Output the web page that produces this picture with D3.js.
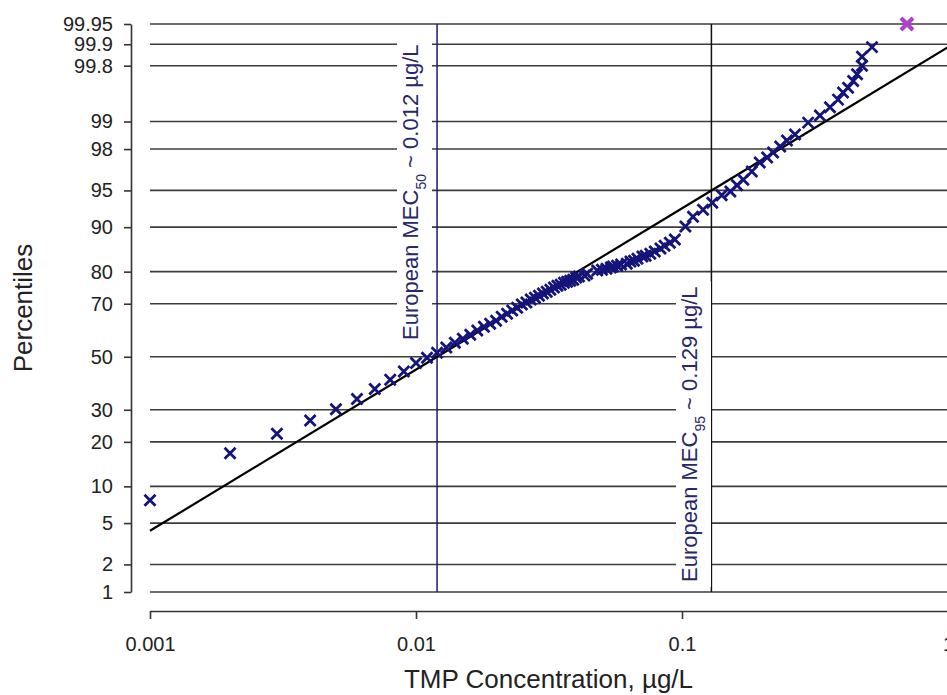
<!DOCTYPE html>
<html>
<head>
<meta charset="utf-8">
<script src="https://cdn.jsdelivr.net/npm/d3@7"></script>
<style>
  body { margin: 0; background: #fff; }
  svg { display: block; font-family: "Liberation Sans", Arial, sans-serif; }
</style>
</head>
<body>
<div id="wrapper"></div>
<script>
// axis ticks
const concTicks = [0.001, 0.01, 0.1, 1];
const concTickLabels = ["0.001", "0.01", "0.1", "1"];
const pctTicks = [1, 2, 5, 10, 20, 30, 50, 70, 80, 90, 95, 98, 99, 99.8, 99.9, 99.95];
const pctTickLabels = ["1", "2", "5", "10", "20", "30", "50", "70", "80", "90", "95", "98", "99", "99.8", "99.9", "99.95"];

// measured TMP concentrations (ug/L) and their percentiles
const sampleConc = [0.001, 0.002, 0.003, 0.004, 0.005, 0.006, 0.007, 0.008, 0.009, 0.010,
  0.011, 0.012, 0.013, 0.014, 0.015, 0.016, 0.017, 0.018, 0.019, 0.020,
  0.021, 0.022, 0.023, 0.024, 0.025, 0.026, 0.027, 0.028, 0.029, 0.030,
  0.031, 0.032, 0.033, 0.034, 0.035, 0.036, 0.037, 0.038, 0.039, 0.040,
  0.041, 0.043, 0.044,
  0.048, 0.050, 0.052, 0.054, 0.055, 0.057, 0.059, 0.062, 0.064, 0.066,
  0.068, 0.071, 0.073, 0.076, 0.079, 0.083, 0.086, 0.090, 0.094,
  0.103, 0.110, 0.120, 0.130, 0.141, 0.152, 0.161, 0.170, 0.183, 0.196,
  0.209, 0.220, 0.234, 0.248, 0.266, 0.298, 0.330, 0.360, 0.386, 0.403,
  0.421, 0.440, 0.455, 0.475, 0.475, 0.518];
const samplePct = [7.8, 17.0, 22.3, 26.4, 30.2, 33.8, 37.5, 41.0, 44.2, 47.5,
  49.6, 51.6, 53.6, 55.5, 57.1, 58.6, 60.2, 61.7, 62.8, 63.9,
  65.4, 66.5, 67.6, 68.6, 69.7, 70.4, 71.4, 72.0, 72.7, 73.4,
  74.0, 74.6, 75.3, 75.9, 76.2, 76.8, 77.1, 77.4, 77.7, 78.3,
  78.6, 78.9, 79.4,
  80.3, 80.5, 80.8, 81.1, 81.4, 81.6, 81.9, 82.1, 82.7, 82.9,
  83.4, 83.9, 84.1, 84.6, 85.1, 85.8, 86.4, 87.0, 87.7,
  90.1, 91.7, 92.7, 93.6, 94.5, 94.9, 95.5, 96.0, 96.65, 97.26,
  97.56, 97.83, 98.12, 98.38, 98.60, 98.97, 99.15, 99.32, 99.45, 99.55,
  99.61, 99.68, 99.74, 99.80, 99.85, 99.89];

// maximum value, highlighted
const maxConc = [0.701];
const maxPct = [99.95];

// fitted log-normal line (ends of the straight line)
const fitConc = [0.001, 1];
const fitPct = [4.26, 99.89];

// European MEC reference lines
const mecConc = [0.012, 0.129];
const mecSub = ["50", "95"];
const mecValue = ["0.012", "0.129"];

// inverse normal cdf (Acklam), used for the probability axis
function probit(p) {
  const a = [-3.969683028665376e+01, 2.209460984245205e+02, -2.759285104469687e+02, 1.383577518672690e+02, -3.066479806614716e+01, 2.506628277459239e+00];
  const b = [-5.447609879822406e+01, 1.615858368580409e+02, -1.556989798598866e+02, 6.680131188771972e+01, -1.328068155288572e+01];
  const c = [-7.784894002430293e-03, -3.223964580411365e-01, -2.400758277161838e+00, -2.549732539343734e+00, 4.374664141464968e+00, 2.938163982698783e+00];
  const d = [7.784695709041462e-03, 3.224671290700398e-01, 2.445134137142996e+00, 3.754408661907416e+00];
  const pl = 0.02425, ph = 1 - pl;
  let q, r;
  if (p < pl) {
    q = Math.sqrt(-2 * Math.log(p));
    return (((((c[0]*q+c[1])*q+c[2])*q+c[3])*q+c[4])*q+c[5]) / ((((d[0]*q+d[1])*q+d[2])*q+d[3])*q+1);
  }
  if (p <= ph) {
    q = p - 0.5; r = q * q;
    return (((((a[0]*r+a[1])*r+a[2])*r+a[3])*r+a[4])*r+a[5])*q / (((((b[0]*r+b[1])*r+b[2])*r+b[3])*r+b[4])*r+1);
  }
  q = Math.sqrt(-2 * Math.log(1 - p));
  return -(((((c[0]*q+c[1])*q+c[2])*q+c[3])*q+c[4])*q+c[5]) / ((((d[0]*q+d[1])*q+d[2])*q+d[3])*q+1);
}

const width = 947, height = 695;
const plot = { left: 150, right: 948, top: 24, bottom: 592 };
const yAxisX = 131, xAxisY = 611;

const svg = d3.select("#wrapper").append("svg")
  .attr("width", width).attr("height", height)
  .attr("viewBox", [0, 0, width, height]);

const x = d3.scaleLog().domain([0.001, 1]).range([plot.left, plot.right]);
const zScale = d3.scaleLinear()
  .domain([probit(0.01), probit(0.9995)])
  .range([plot.bottom, plot.top]);
const y = p => zScale(probit(p / 100));

// horizontal grid
svg.append("g")
  .selectAll("line")
  .data(pctTicks)
  .join("line")
  .attr("x1", plot.left).attr("x2", width)
  .attr("y1", d => y(d)).attr("y2", d => y(d))
  .attr("stroke", "#3c3c3c").attr("stroke-width", 1.6);

// MEC vertical lines
const mecColors = ["#1c1c6a", "#111"];
svg.append("g")
  .selectAll("line")
  .data(mecConc)
  .join("line")
  .attr("x1", d => x(d)).attr("x2", d => x(d))
  .attr("y1", plot.top).attr("y2", plot.bottom)
  .attr("stroke", (d, i) => mecColors[i]).attr("stroke-width", 1.5);

// MEC labels (rotated text in white boxes)
const mecLabelPos = [{ bx: 418, by: 340 }, { bx: 697, by: 582 }];
mecConc.forEach((c, i) => {
  const g = svg.append("g")
    .attr("transform", `translate(${mecLabelPos[i].bx},${mecLabelPos[i].by}) rotate(-90)`);
  const rect = g.append("rect").attr("fill", "#fff");
  const t = g.append("text")
    .attr("x", 0).attr("y", 0)
    .attr("fill", "#27276a")
    .style("font-size", "22px");
  t.append("tspan").text("European MEC");
  t.append("tspan").attr("baseline-shift", "sub").style("font-size", "14px").text(mecSub[i]);
  t.append("tspan").text(` ~ ${mecValue[i]} µg/L`);
  const bb = t.node().getBBox();
  rect.attr("x", bb.x - 5).attr("y", bb.y - 1)
    .attr("width", bb.width + 10).attr("height", bb.height + 4);
});

// fitted line
svg.append("path")
  .datum(fitConc.map((c, i) => [c, fitPct[i]]))
  .attr("fill", "none")
  .attr("stroke", "#000")
  .attr("stroke-width", 2.2)
  .attr("d", d3.line().x(d => x(d[0])).y(d => y(d[1])));

// sample markers
const cross = "M-5.5,-5.5L5.5,5.5M-5.5,5.5L5.5,-5.5";
svg.append("g")
  .selectAll("path")
  .data(sampleConc.map((c, i) => [c, samplePct[i]]))
  .join("path")
  .attr("transform", d => `translate(${x(d[0])},${y(d[1])})`)
  .attr("d", cross)
  .attr("fill", "none")
  .attr("stroke", "#14147a")
  .attr("stroke-width", 2.8);

svg.append("g")
  .selectAll("path")
  .data(maxConc.map((c, i) => [c, maxPct[i]]))
  .join("path")
  .attr("transform", d => `translate(${x(d[0])},${y(d[1])})`)
  .attr("d", "M-6,-6L6,6M-6,6L6,-6")
  .attr("fill", "none")
  .attr("stroke", "#b23fcf")
  .attr("stroke-width", 4.2);

// y axis
const yAxis = d3.axisLeft(zScale)
  .tickValues(pctTicks.map(p => probit(p / 100)))
  .tickFormat((d, i) => pctTickLabels[i])
  .tickSize(7).tickSizeOuter(0).tickPadding(11);
const gy = svg.append("g")
  .attr("transform", `translate(${yAxisX},0)`)
  .call(yAxis);
gy.selectAll("path, line").attr("stroke", "#333").attr("stroke-width", 1.6);
gy.selectAll("text").attr("fill", "#222").style("font-size", "20px").style("font-family", "inherit");

// x axis
const xAxis = d3.axisBottom(x)
  .tickValues(concTicks)
  .tickFormat((d, i) => concTickLabels[i])
  .tickSize(8).tickSizeOuter(0).tickPadding(18);
const gx = svg.append("g")
  .attr("transform", `translate(0,${xAxisY})`)
  .call(xAxis);
gx.selectAll("path, line").attr("stroke", "#333").attr("stroke-width", 1.6);
gx.selectAll("text").attr("fill", "#222").style("font-size", "20px").style("font-family", "inherit");

// axis titles
svg.append("text")
  .attr("x", (plot.left + width) / 2)
  .attr("y", 688)
  .attr("text-anchor", "middle")
  .attr("fill", "#222")
  .style("font-size", "26px")
  .text("TMP Concentration, µg/L");

svg.append("text")
  .attr("transform", `translate(32,${(plot.top + plot.bottom) / 2}) rotate(-90)`)
  .attr("text-anchor", "middle")
  .attr("fill", "#222")
  .style("font-size", "26px")
  .text("Percentiles");
</script>
</body>
</html>
